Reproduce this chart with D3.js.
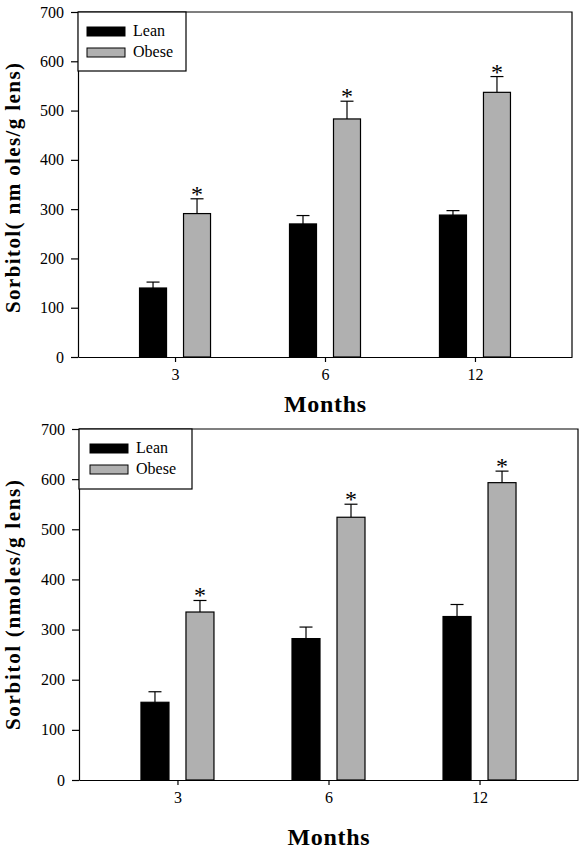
<!DOCTYPE html>
<html>
<head>
<meta charset="utf-8">
<script src="https://cdn.jsdelivr.net/npm/d3@7"></script>
<style>
  html, body { margin: 0; padding: 0; background: #fff; }
  svg { display: block; }
</style>
</head>
<body>
<script>
// ---- data ----
const months = ["3", "6", "12"];
const seriesNames = ["Lean", "Obese"];
const yTicks = [0, 100, 200, 300, 400, 500, 600, 700];

// top panel
const leanTop = [140, 270, 288];
const leanTopErr = [12, 17, 9];
const obeseTop = [291, 483, 537];
const obeseTopErr = [30, 36, 32];
const yTitleTop = "Sorbitol( nm oles/g lens)";

// bottom panel
const leanBot = [155, 282, 326];
const leanBotErr = [21, 23, 24];
const obeseBot = [335, 524, 593];
const obeseBotErr = [23, 26, 23];
const yTitleBot = "Sorbitol (nmoles/g lens)";

const xTitle = "Months";
const significant = ["*", "*", "*"];

const FONT = '"Liberation Serif"';
const W = 583, H = 851;
const svg = d3.select("body").append("svg").attr("width", W).attr("height", H);

const colors = { Lean: "#000000", Obese: "#b0b0b0" };

function panel(cfg) {
  const g = svg.append("g");
  const x = d3.scalePoint().domain(months).range([cfg.left, cfg.right]).padding(cfg.pad);
  const y = d3.scaleLinear().domain([0, 700]).range([cfg.bottom, cfg.top]);

  // frame (top & right)
  g.append("path")
    .attr("d", `M${cfg.left},${cfg.top}H${cfg.right}V${cfg.bottom}`)
    .attr("fill", "none").attr("stroke", "#000").attr("stroke-width", 1.2);

  const series = [
    { name: "Lean", vals: cfg.lean, errs: cfg.leanErr, off: -cfg.off },
    { name: "Obese", vals: cfg.obese, errs: cfg.obeseErr, off: cfg.off }
  ];

  series.forEach(s => {
    const sg = g.append("g");
    sg.selectAll("line.eb").data(months).join("line")
      .attr("x1", (m) => x(m) + s.off).attr("x2", (m) => x(m) + s.off)
      .attr("y1", (m, i) => y(s.vals[i])).attr("y2", (m, i) => y(s.vals[i] + s.errs[i]))
      .attr("stroke", "#000").attr("stroke-width", 1.2);
    sg.selectAll("line.cap").data(months).join("line")
      .attr("x1", (m) => x(m) + s.off - cfg.cap / 2).attr("x2", (m) => x(m) + s.off + cfg.cap / 2)
      .attr("y1", (m, i) => y(s.vals[i] + s.errs[i])).attr("y2", (m, i) => y(s.vals[i] + s.errs[i]))
      .attr("stroke", "#000").attr("stroke-width", 1.2);
    sg.selectAll("rect").data(months).join("rect")
      .attr("x", (m) => x(m) + s.off - cfg.bw / 2)
      .attr("width", cfg.bw)
      .attr("y", (m, i) => y(s.vals[i]))
      .attr("height", (m, i) => y(0) - y(s.vals[i]))
      .attr("fill", colors[s.name])
      .attr("stroke", "#000").attr("stroke-width", 1.2);
    if (s.name === "Obese") {
      sg.selectAll("text.star").data(months).join("text")
        .attr("x", (m) => x(m) + s.off)
        .attr("y", (m, i) => y(s.vals[i] + s.errs[i]) + 3)
        .attr("text-anchor", "middle")
        .style("font-family", FONT)
        .style("font-size", "24px")
        .text((m, i) => significant[i]);
    }
  });

  // axes
  const ya = g.append("g").attr("transform", `translate(${cfg.left},0)`)
    .call(d3.axisLeft(y).tickValues(yTicks).tickSize(7).tickSizeOuter(0).tickPadding(7));
  const xa = g.append("g").attr("transform", `translate(0,${cfg.bottom})`)
    .call(d3.axisBottom(x).tickSize(5).tickSizeOuter(0).tickPadding(7));
  [ya, xa].forEach(a => {
    a.attr("font-family", null).attr("font-size", null);
    a.selectAll("path, line").attr("stroke", "#000").attr("stroke-width", 1.2);
    a.selectAll("text").style("font-size", "16px").style("font-family", FONT).attr("fill", "#000");
  });

  // titles
  g.append("text")
    .attr("x", (cfg.left + cfg.right) / 2)
    .attr("y", cfg.xTitleY)
    .attr("text-anchor", "middle")
    .style("font-family", FONT)
    .style("font-size", "24px").style("font-weight", "bold")
    .attr("textLength", 82).attr("lengthAdjust", "spacing")
    .text(xTitle);
  g.append("text")
    .attr("transform", `translate(20,${cfg.yTitleC}) rotate(-90)`)
    .attr("text-anchor", "middle")
    .style("font-family", FONT)
    .style("font-size", "21px").style("font-weight", "bold")
    .attr("textLength", cfg.yTitleLen).attr("lengthAdjust", "spacing")
    .text(cfg.yTitle);

  // legend
  const lg = g.append("g");
  lg.append("rect")
    .attr("x", cfg.left).attr("y", cfg.top)
    .attr("width", cfg.legW).attr("height", cfg.legH)
    .attr("fill", "#fff").attr("stroke", "#000").attr("stroke-width", 1.2);
  seriesNames.forEach((n, i) => {
    lg.append("rect")
      .attr("x", cfg.left + cfg.swX).attr("y", cfg.top + cfg.swY + i * cfg.swStep)
      .attr("width", 38).attr("height", 9)
      .attr("fill", colors[n]).attr("stroke", "#000").attr("stroke-width", 1);
    lg.append("text")
      .attr("x", cfg.left + cfg.swX + 46).attr("y", cfg.top + cfg.swY + i * cfg.swStep + 9)
      .style("font-family", FONT)
      .style("font-size", "16px")
      .text(n);
  });
}

panel({
  left: 78, right: 572, top: 12, bottom: 357, pad: 0.647,
  bw: 27, off: 22, cap: 13,
  lean: leanTop, leanErr: leanTopErr, obese: obeseTop, obeseErr: obeseTopErr,
  xTitleY: 412, yTitle: yTitleTop, yTitleC: 188, yTitleLen: 250,
  legW: 108, legH: 59, swX: 9, swY: 15, swStep: 21
});

panel({
  left: 79, right: 578, top: 429, bottom: 780, pad: 0.652,
  bw: 28, off: 22.5, cap: 13,
  lean: leanBot, leanErr: leanBotErr, obese: obeseBot, obeseErr: obeseBotErr,
  xTitleY: 845, yTitle: yTitleBot, yTitleC: 605, yTitleLen: 250,
  legW: 113, legH: 60, swX: 11, swY: 15, swStep: 21
});
</script>
</body>
</html>
